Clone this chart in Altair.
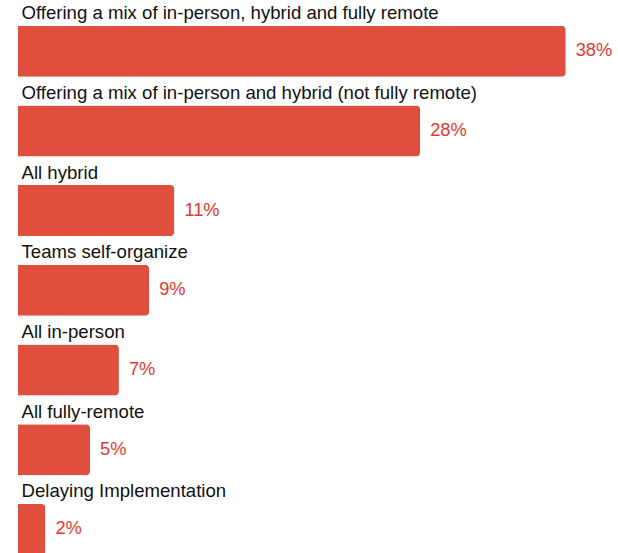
import altair as alt
import pandas as pd

categories = [
    "Offering a mix of in-person, hybrid and fully remote",
    "Offering a mix of in-person and hybrid (not fully remote)",
    "All hybrid",
    "Teams self-organize",
    "All in-person",
    "All fully-remote",
    "Delaying Implementation",
]
values = [38, 27.9, 10.85, 9.1, 7, 5, 1.9]
value_labels = ["38%", "28%", "11%", "9%", "7%", "5%", "2%"]

df = pd.DataFrame({"cat": categories, "val": values, "lab": value_labels})

y_enc = alt.Y(
    "cat:N",
    sort=categories,
    axis=None,
    scale=alt.Scale(range=[11.35, 569.3], paddingInner=0.36, paddingOuter=0.18),
)
x_scale = alt.Scale(domain=[0, 38], range=[18, 565.7], nice=False, zero=True)

base = alt.Chart(df)

bars = base.mark_bar(color="#E04F3E", cornerRadiusEnd=4).encode(
    x=alt.X("val:Q", scale=x_scale, axis=None),
    y=y_enc,
)

pct = base.mark_text(
    align="left", baseline="middle", dx=10, font="Liberation Sans", fontSize=18.3, color="#E5392E"
).encode(
    x=alt.X("val:Q", scale=x_scale, axis=None),
    y=y_enc,
    text="lab:N",
)

names = base.mark_text(
    align="left", baseline="alphabetic", dx=3.5, dy=-32, font="Liberation Sans", fontSize=18.6, color="#111111"
).encode(
    x=alt.datum(0, scale=x_scale),
    y=y_enc,
    text="cat:N",
)

chart = (
    alt.layer(bars, pct, names)
    .properties(width=618, height=553, autosize=alt.AutoSizeParams(type="none"), padding=0, background="white")
    .configure_view(stroke=None)
)

chart.save("out.html", embed_options={"renderer": "svg", "actions": False})
